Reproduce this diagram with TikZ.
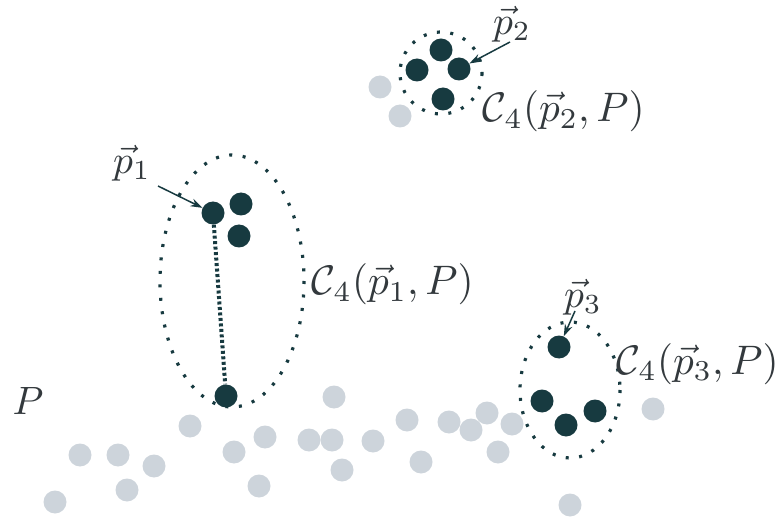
\documentclass[tikz,border=0pt]{standalone}
\usetikzlibrary{arrows.meta}
\definecolor{dk}{HTML}{173A40}
\definecolor{lg}{HTML}{CDD4DB}
\definecolor{tx}{HTML}{33393D}
\begin{document}
\begin{tikzpicture}[x=1pt,y=-1pt,
  dkdot/.style={circle,fill=dk,inner sep=0pt,minimum size=23pt},
  grdot/.style={circle,fill=lg,inner sep=0pt,minimum size=23pt},
  encl/.style={draw=dk,line width=3.2pt,dash pattern=on 3pt off 10.5pt},
  conn/.style={draw=dk,line width=4pt,dash pattern=on 3pt off 2.5pt},
  lbl/.style={text=tx,scale=3.95,inner sep=0pt},
  clbl/.style={text=tx,scale=4.12,inner sep=0pt,anchor=base west},
  arr/.style={draw=dk,line width=1.5pt,-{Stealth[length=12pt,width=8pt]}}]
\useasboundingbox (0,0) rectangle (779,521);
% gray points of P
\foreach \x/\y in {380/87,400/116,190/426,80/455,118/455,154/466,55/502,127/490,
  234/452,265/437,259/486,334/397,309/440,332/440,373/441,342/470,407/420,
  421/462,449/422,471/430,487/413,512/424,498/452,570/505,653/409}
  \node[grdot] at (\x,\y) {};
% enclosing ellipses
\draw[encl] (232,281) ellipse [x radius=72,y radius=126];
\draw[encl] (441,73) ellipse [x radius=41,y radius=41];
\draw[encl] (570,390) ellipse [x radius=50,y radius=68];
% cluster 1
\node[dkdot] (a1) at (213,213) {};
\node[dkdot] (a2) at (241,204) {};
\node[dkdot] (a3) at (239,236) {};
\node[dkdot] (a4) at (226,396) {};
\draw[conn] (a1) -- (a4);
% cluster 2
\node[dkdot] (b1) at (441,50) {};
\node[dkdot] (b2) at (417,70) {};
\node[dkdot] (b3) at (459,69) {};
\node[dkdot] (b4) at (443,99) {};
% cluster 3
\node[dkdot] (c1) at (559,347) {};
\node[dkdot] (c2) at (542,401) {};
\node[dkdot] (c3) at (566,425) {};
\node[dkdot] (c4) at (595,411) {};
% labels
\node[lbl] (lp1) at (132,163) {$\vec{p}_1$};
\node[lbl] (lp2) at (512,24) {$\vec{p}_2$};
\node[lbl] (lp3) at (583,297) {$\vec{p}_3$};
\node[lbl] (lP) at (28,401) {$P$};
\node[clbl] (lc1) at (311,295) {$\mathcal{C}_4(\vec{p}_1,P)$};
\node[clbl] (lc2) at (482,122) {$\mathcal{C}_4(\vec{p}_2,P)$};
\node[clbl] (lc3) at (616,374) {$\mathcal{C}_4(\vec{p}_3,P)$};
% arrows
\coordinate (t1) at (158,186);
\coordinate (t2) at (510,42);
\coordinate (t3) at (575,311);
\draw[arr] (t1) -- (a1);
\draw[arr] (t2) -- (b3);
\draw[arr] (t3) -- (c1);
\end{tikzpicture}
\end{document}
